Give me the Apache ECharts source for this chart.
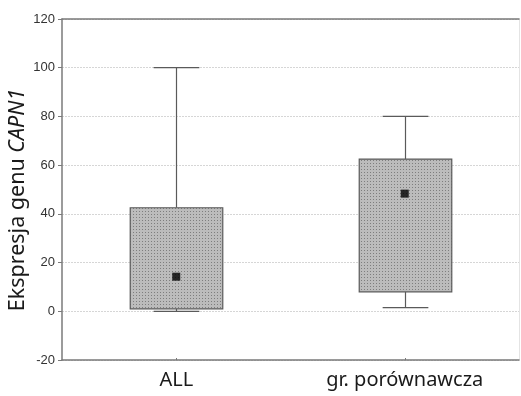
<!DOCTYPE html>
<html>
<head>
<meta charset="utf-8">
<script src="https://cdn.jsdelivr.net/npm/echarts@6/dist/echarts.min.js"></script>
<style>
  html, body { margin: 0; padding: 0; background: #fff; }
  #chart { width: 521px; height: 396px; }
</style>
</head>
<body>
<div id="chart"></div>
<script>
// Groups and box statistics for CAPN1 expression
const categories = ['ALL', 'gr. porównawcza'];
const whiskerLow = [0, 1.5];
const boxLow = [1, 8];
const boxHigh = [42.5, 62.5];
const whiskerHigh = [100, 80];
const centerValue = [14.2, 48.3];
const yTicks = [-20, 0, 20, 40, 60, 80, 100, 120];

// Dotted grey fill used inside the boxes
function makePattern() {
  const c = document.createElement('canvas');
  c.width = 3; c.height = 3;
  const g = c.getContext('2d');
  g.fillStyle = '#bcbcbc';
  g.fillRect(0, 0, 3, 3);
  g.fillStyle = '#7e7e7e';
  g.fillRect(1, 1, 1, 1);
  return c;
}
const boxFill = { image: makePattern(), repeat: 'repeat' };

const boxData = categories.map((c, i) => [i, whiskerLow[i], boxLow[i], boxHigh[i], whiskerHigh[i]]);
const meanData = categories.map((c, i) => [i, centerValue[i]]);

const chart = echarts.init(document.getElementById('chart'), null, { renderer: 'canvas' });

const axisGrey = '#7a7a7a';
const lineGrey = '#5a5a5a';

chart.setOption({
  animation: false,
  backgroundColor: '#fff',
  grid: { left: 62, right: 2, top: 19, bottom: 36, containLabel: false },
  xAxis: [{
    type: 'category',
    data: categories,
    boundaryGap: true,
    position: 'bottom',
    axisLine: { onZero: false, lineStyle: { color: axisGrey, width: 1.5 } },
    axisTick: { show: true, inside: true, alignWithLabel: true, length: 2, lineStyle: { color: axisGrey } },
    axisLabel: { color: '#1a1a1a', fontSize: 20, fontFamily: 'Noto Sans', margin: 10 },
    splitLine: { show: false }
  }, {
    type: 'category',
    data: categories,
    position: 'top',
    axisLine: { onZero: false, lineStyle: { color: axisGrey, width: 1.5 } },
    axisTick: { show: false },
    axisLabel: { show: false }
  }],
  yAxis: [{
    type: 'value',
    min: -20, max: 120, interval: 20,
    axisLine: { show: true, onZero: false, lineStyle: { color: axisGrey, width: 1.5 } },
    axisTick: { show: true, length: 4, lineStyle: { color: axisGrey } },
    axisLabel: {
      color: '#333', fontSize: 13, fontFamily: 'Liberation Sans', margin: 7,
      formatter: v => yTicks.indexOf(v) >= 0 ? String(v) : ''
    },
    splitLine: { show: true, lineStyle: { color: '#d6d6d6', width: 1, type: [2, 1] } }
  }, {
    type: 'value',
    min: -20, max: 120, interval: 20,
    position: 'right',
    axisLine: { show: true, onZero: false, lineStyle: { color: '#e4e4e4', width: 1 } },
    axisTick: { show: false },
    axisLabel: { show: false },
    splitLine: { show: false }
  }],
  graphic: [{
    type: 'text',
    x: 18, y: 200,
    rotation: Math.PI / 2,
    style: {
      text: '{a|Ekspresja genu }{b|CAPN1}',
      align: 'center',
      verticalAlign: 'middle',
      rich: {
        a: { fontSize: 21.5, fontFamily: 'Noto Sans', fill: '#1a1a1a' },
        b: { fontSize: 21.5, fontFamily: 'Noto Sans', fontStyle: 'italic', fill: '#1a1a1a' }
      }
    }
  }],
  series: [{
    type: 'custom',
    data: boxData,
    encode: { x: 0, y: [1, 2, 3, 4] },
    renderItem: function (params, api) {
      const idx = api.value(0);
      const band = api.size([1, 0])[0];
      const boxW = band * 0.405;
      const capW = band * 0.2;
      const pLow = api.coord([idx, api.value(1)]);
      const pQ1 = api.coord([idx, api.value(2)]);
      const pQ3 = api.coord([idx, api.value(3)]);
      const pHigh = api.coord([idx, api.value(4)]);
      const cx = Math.round(pLow[0]) + 0.5;
      const ls = { stroke: lineGrey, lineWidth: 1.2 };
      return {
        type: 'group',
        children: [
          { type: 'line', shape: { x1: cx, y1: pHigh[1], x2: cx, y2: pQ3[1] }, style: ls },
          { type: 'line', shape: { x1: cx, y1: pQ1[1], x2: cx, y2: pLow[1] }, style: ls },
          { type: 'line', shape: { x1: cx - capW / 2, y1: pHigh[1], x2: cx + capW / 2, y2: pHigh[1] }, style: ls },
          { type: 'line', shape: { x1: cx - capW / 2, y1: pLow[1], x2: cx + capW / 2, y2: pLow[1] }, style: ls },
          {
            type: 'rect',
            shape: { x: cx - boxW / 2, y: pQ3[1], width: boxW, height: pQ1[1] - pQ3[1] },
            style: { fill: boxFill, stroke: lineGrey, lineWidth: 1.2 }
          }
        ]
      };
    },
    z: 3
  }, {
    type: 'scatter',
    data: meanData,
    symbol: 'rect',
    symbolSize: 8,
    itemStyle: { color: '#000' },
    z: 5
  }]
});
</script>
</body>
</html>
